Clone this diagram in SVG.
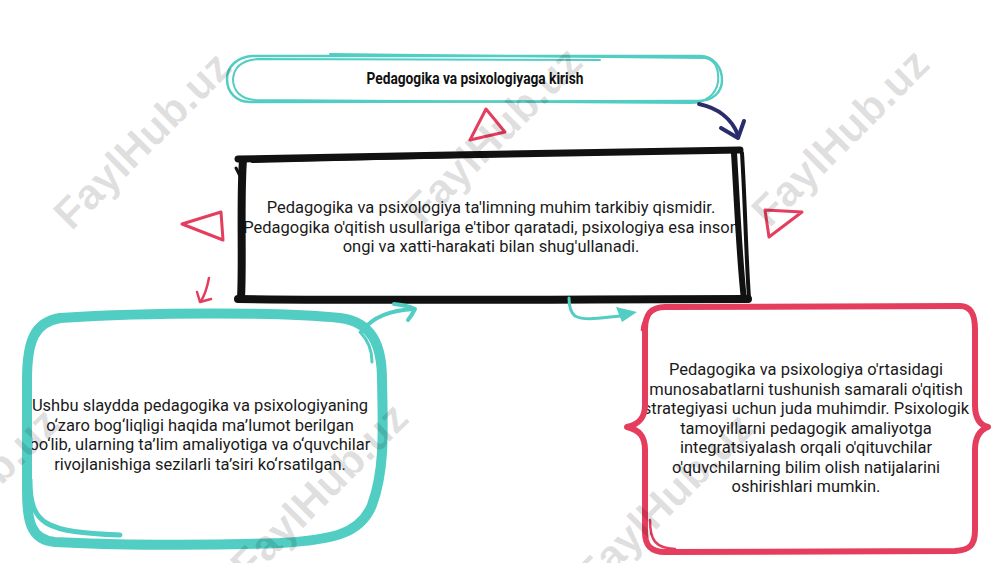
<svg xmlns="http://www.w3.org/2000/svg" width="1000" height="563" viewBox="0 0 1000 563">
<style>
.t{font-family:Roboto,"Liberation Sans",sans-serif;font-size:16.5px;fill:#1a1a1a;text-anchor:middle}
.teal{fill:none;stroke:#52cdc3;stroke-linecap:round;stroke-linejoin:round}
.red{fill:none;stroke:#e43d5d;stroke-linecap:round;stroke-linejoin:round}
.blk{fill:none;stroke:#111;stroke-linecap:round;stroke-linejoin:round}
.wm{font-family:"Liberation Sans",Arial,sans-serif;font-weight:bold;font-size:43px;fill:#000;fill-opacity:0.12;text-anchor:middle}
</style>
<rect width="1000" height="563" fill="#fff"/>

<g id="title">
<path d="M252,56 L700,56 C714,56 722,68 722,80 C722,93 712,101 698,101 L250,102 C236,102 227,92 227,79 C227,66 238,57 252,56 Z" fill="#fff" stroke="none"/>
<path class="teal" stroke-width="2.5" d="M252,56 L700,56 C714,56 722,68 722,80 C722,93 712,101 698,101 L250,102 C236,102 227,92 227,79 C227,66 238,57 252,56"/>
<path class="teal" stroke-width="2" d="M330,54 L705,58 C716,60 719,70 718,82 C716,95 705,103 690,103 L255,100 C240,99 233,90 233,79 C234,67 242,60 258,59 L600,60"/>
<text x="475" y="84" font-family="Roboto,'Liberation Sans',sans-serif" font-weight="bold" font-size="16" fill="#111" text-anchor="middle" textLength="217" lengthAdjust="spacingAndGlyphs">Pedagogika va psixologiyaga kirish</text>
</g>

<g id="center">
<path d="M240,160 L740,150 L748,300 L240,300 Z" fill="#fff"/>
<text class="t" x="491" y="213">Pedagogika va psixologiya ta'limning muhim tarkibiy qismidir.</text>
<text class="t" x="491" y="232.5">Pedagogika o'qitish usullariga e'tibor qaratadi, psixologiya esa inson</text>
<text class="t" x="491" y="252">ongi va xatti-harakati bilan shug'ullanadi.</text>
<path class="blk" stroke-width="7" d="M238,159 C400,156 600,152 740,150"/>
<path class="blk" stroke-width="2" d="M252,162 L620,153"/>
<path class="blk" stroke-width="8" d="M243,160 C240,200 243,262 241,298"/>
<path class="blk" stroke-width="3" d="M236,168 L240,176"/>
<path class="blk" stroke-width="8" d="M238,299 C400,301 600,299 748,299"/>
<path class="blk" stroke-width="6" d="M734,153 C737,200 739,255 744,300"/>
<path class="blk" stroke-width="4" d="M742,153 C745,200 746,255 749,298"/>
</g>

<g id="left">
<path d="M60,318 C150,312 280,312 340,318 C372,322 382,345 382,380 C383,430 385,470 372,505 C360,535 330,540 280,543 C200,546 110,545 55,542 C30,540 27,520 27,490 L27,380 C27,340 35,322 60,318 Z" fill="#fff"/>
<text class="t" x="200" y="411">Ushbu slaydda pedagogika va psixologiyaning</text>
<text class="t" x="200" y="430.5">o‘zaro bog‘liqligi haqida ma’lumot berilgan</text>
<text class="t" x="200" y="450">bo‘lib, ularning ta’lim amaliyotiga va o‘quvchilar</text>
<text class="t" x="200" y="469.5">rivojlanishiga sezilarli ta’siri ko‘rsatilgan.</text>
<path class="teal" stroke-width="10" d="M60,318 C150,312 280,312 340,318 C372,322 382,345 382,380 C383,430 385,470 372,505 C360,535 330,540 280,543 C200,546 110,545 55,542 C30,540 27,520 27,490 L27,380 C27,340 35,322 60,318 Z"/>
<path class="teal" stroke-width="5" d="M30,480 C30,525 45,532 120,535"/>
<path class="teal" stroke-width="3" d="M360,332 C368,340 372,350 372,362"/>
</g>

<g id="right">
<path d="M665,307 L960,306 C973,306 975,318 975,330 L975,405 C975,418 980,425 988,427 C980,430 975,437 975,450 L975,530 C975,545 970,550 955,551 L665,552 C650,552 645,545 645,532 L645,450 C645,437 640,430 627,427 C640,424 645,417 645,405 L645,330 C645,315 650,307 665,307 Z" fill="#fff"/>
<text class="t" x="806" y="375">Pedagogika va psixologiya o'rtasidagi</text>
<text class="t" x="806" y="394.5">munosabatlarni tushunish samarali o'qitish</text>
<text class="t" x="806" y="414">strategiyasi uchun juda muhimdir. Psixologik</text>
<text class="t" x="806" y="433.5">tamoyillarni pedagogik amaliyotga</text>
<text class="t" x="806" y="453">integratsiyalash orqali o'qituvchilar</text>
<text class="t" x="806" y="472.5">o'quvchilarning bilim olish natijalarini</text>
<text class="t" x="806" y="492">oshirishlari mumkin.</text>
<path class="red" stroke-width="6" d="M665,307 L960,306 C973,306 975,318 975,330 L975,405 C975,418 980,425 988,427 C980,430 975,437 975,450 L975,530 C975,545 970,550 955,551 L665,552 C650,552 645,545 645,532 L645,450 C645,437 640,430 627,427 C640,424 645,417 645,405 L645,330 C645,315 650,307 665,307 Z"/>
<path class="red" stroke-width="2.5" d="M650,520 C650,540 655,548 675,549"/>
<path class="red" stroke-width="2.5" d="M656,310 C648,314 642,322 642,330"/>
</g>

<g id="connectors">
<path fill="none" stroke="#2a2c6b" stroke-width="4" stroke-linecap="round" d="M699,104 C718,108 732,119 738,135"/>
<path fill="none" stroke="#2a2c6b" stroke-width="4" stroke-linecap="round" stroke-linejoin="round" d="M721,128 L738,138 L744,121"/>
<path class="teal" stroke-width="4" d="M362,331 C372,318 390,310 414,309"/>
<path class="teal" stroke-width="4" d="M394,304 Q406,305 415,309 Q412,315 408,320"/>
<path class="teal" stroke-width="3" d="M569,298 C569,306 570,312 575,316 C585,321 600,318 620,316"/>
<polygon points="616,307 637,312 622,322" fill="#52cdc3"/>
<path class="red" stroke-width="2.5" d="M209,278 C207,288 205,295 201,301"/>
<path class="red" stroke-width="2.5" d="M197,292 L200,302 L211,299"/>
<polygon class="red" stroke-width="3" points="486,109 470,140 505,132"/>
<polygon class="red" stroke-width="3" points="182,224 221,212 223,240"/>
<polygon class="red" stroke-width="3" points="765,210 802,212 769,237"/>
</g>

<g id="watermarks">
<text class="wm" transform="translate(142,140) rotate(-45)" dy="15">FaylHub.uz</text>
<text class="wm" transform="translate(493,135) rotate(-45)" dy="15">FaylHub.uz</text>
<text class="wm" transform="translate(840,137) rotate(-45)" dy="15">FaylHub.uz</text>
<text class="wm" transform="translate(-30,496) rotate(-45)" dy="15">FaylHub.uz</text>
<text class="wm" transform="translate(319,491) rotate(-45)" dy="15">FaylHub.uz</text>
<text class="wm" transform="translate(664,501) rotate(-45)" dy="15">FaylHub.uz</text>
</g>
</svg>
